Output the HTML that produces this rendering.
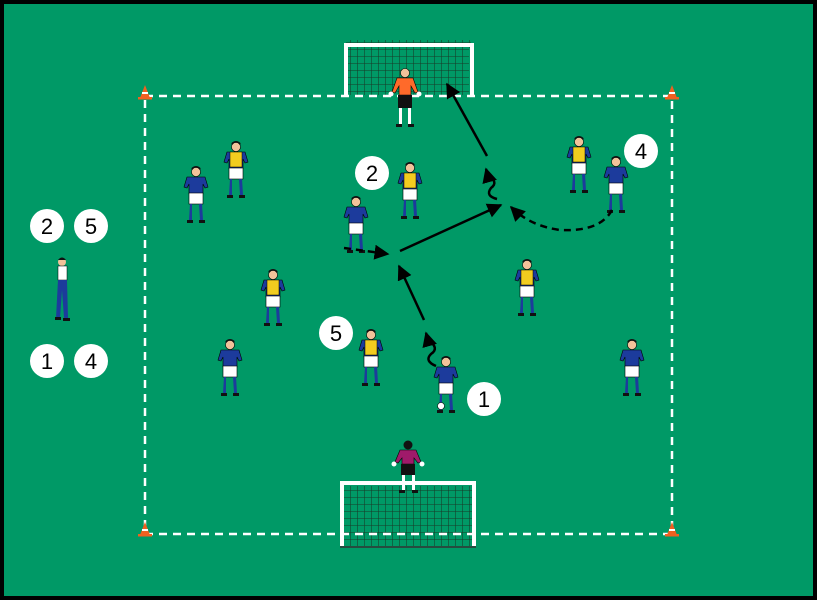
<!DOCTYPE html><html><head><style>html,body{margin:0;padding:0;background:#000}svg{display:block}</style></head><body>
<svg width="817" height="600" viewBox="0 0 817 600" xmlns="http://www.w3.org/2000/svg" font-family="Liberation Sans, sans-serif">
<defs>
<g id="pb">
<circle cx="0" cy="5" r="4.5" fill="#f2c29a" stroke="#000" stroke-width=".6"/>
<path d="M-4.5 3 Q0 -2 4.5 3 L4.5 1 Q0 -3 -4.5 1Z" fill="#111"/>
<path d="M-9 10 L9 10 L12 20 L9 21 L7 17 L7 27 L-7 27 L-7 17 L-9 21 L-12 20Z" fill="#1c3b9c" stroke="#000" stroke-width=".6"/>
<rect x="-7" y="26" width="14" height="11" fill="#fff" stroke="#000" stroke-width=".6"/>
<path d="M-6 37 L-4 37 L-4 53 L-7 53Z M3 37 L6 37 L7 53 L4 53Z" fill="#1c3b9c"/>
<path d="M-9 53 h6 v3 h-6Z M3 53 h6 v3 h-6Z" fill="#111"/>
</g>
<g id="py">
<use href="#pb"/>
<path d="M-6 10 L6 10 L6 25 L-6 25Z" fill="#f2cc1f" stroke="#000" stroke-width=".5"/>
</g>
<marker id="ah" viewBox="0 0 10 10" refX="9" refY="5" markerWidth="6" markerHeight="6" orient="auto"><path d="M0 0 L10 5 L0 10Z" fill="#000"/></marker>
<pattern id="net" width="7" height="7" patternUnits="userSpaceOnUse"><path d="M0 0 H7 M0 0 V7" stroke="#173a28" stroke-width="1.1" fill="none"/></pattern>
<g id="cone"><path d="M-5 6 L0 -7 L5 6Z" fill="#f06020"/><rect x="-7" y="5" width="14" height="2.5" fill="#f06020"/><path d="M-3 0 h6 v2 h-6z" fill="#fff"/></g>
</defs>
<rect x="0" y="0" width="817" height="600" fill="#000"/>
<rect x="4" y="4" width="809" height="592" fill="#009966"/>
<rect x="346" y="40" width="125" height="8" fill="url(#net)"/>
<rect x="348" y="47" width="121" height="48" fill="url(#net)"/>
<path d="M346 96 V45 H472 V96" fill="none" stroke="#fff" stroke-width="4"/>
<rect x="342" y="486" width="132" height="60" fill="url(#net)"/>
<path d="M342 546 V483 H474 V546" fill="none" stroke="#fff" stroke-width="4"/>
<path d="M340 547 H476" stroke="#333" stroke-width="1.5"/>
<rect x="145" y="96" width="527" height="438" fill="none" stroke="#fff" stroke-width="2.5" stroke-dasharray="8 6"/>
<use href="#cone" x="145" y="92"/><use href="#cone" x="672" y="92"/><use href="#cone" x="145" y="529"/><use href="#cone" x="672" y="529"/>
<g transform="translate(405,68)">
<circle cx="0" cy="5" r="4.5" fill="#f2c29a" stroke="#000" stroke-width=".6"/>
<path d="M-8 10 L8 10 L13 24 L10 25 L6 18 L6 27 L-6 27 L-6 18 L-10 25 L-13 24Z" fill="#ff6a2a" stroke="#000" stroke-width=".6"/>
<circle cx="-14" cy="26" r="2.5" fill="#fff"/><circle cx="14" cy="26" r="2.5" fill="#fff"/>
<rect x="-7" y="27" width="14" height="13" fill="#111"/>
<path d="M-6 40 h3 v17 h-3Z M3 40 h3 v17 h-3Z" fill="#fff"/>
<path d="M-9 56 h6 v3 h-6Z M3 56 h6 v3 h-6Z" fill="#111"/>
</g>
<g transform="translate(408,440)">
<circle cx="0" cy="5" r="4.5" fill="#111"/>
<path d="M-8 10 L8 10 L13 22 L10 23 L6 18 L6 24 L-6 24 L-6 18 L-10 23 L-13 22Z" fill="#a01a6a" stroke="#000" stroke-width=".6"/>
<circle cx="-14" cy="24" r="2.5" fill="#fff"/><circle cx="14" cy="24" r="2.5" fill="#fff"/>
<rect x="-7" y="24" width="14" height="11" fill="#111"/>
<path d="M-6 35 h3 v16 h-3Z M4 35 h3 v16 h-3Z" fill="#fff"/>
<path d="M-9 50 h6 v3 h-6Z M4 50 h6 v3 h-6Z" fill="#111"/>
</g>
<use href="#pb" x="196" y="167"/><use href="#pb" x="356" y="197"/><use href="#pb" x="230" y="340"/><use href="#pb" x="446" y="357"/><use href="#pb" x="616" y="157"/><use href="#pb" x="632" y="340"/>
<use href="#py" x="236" y="142"/><use href="#py" x="410" y="163"/><use href="#py" x="273" y="270"/><use href="#py" x="371" y="330"/><use href="#py" x="527" y="260"/><use href="#py" x="579" y="137"/>
<circle cx="441" cy="406" r="3.5" fill="#fff" stroke="#000" stroke-width=".6"/>
<g transform="translate(62,258)">
<circle cx="0" cy="4" r="4" fill="#f2c29a"/><path d="M-4 2 Q0 -3 4 2Z" fill="#111"/>
<rect x="-4" y="8" width="9" height="14" fill="#fff" stroke="#000" stroke-width=".5"/>
<path d="M-4 22 h9 l1 38 h-4 l-2 -28 l-2 28 h-4Z" fill="#1c3b9c"/>
<path d="M-7 59 h6 v3 h-6Z M1 60 h7 v3 h-7Z" fill="#111"/>
</g>
<g stroke="#000" stroke-width="2.5" fill="none">
<path d="M436 366 q-12 -5 -5 -12 q9 -6 -3 -14 l-2 -7" marker-end="url(#ah)"/>
<path d="M424 320 L399 266" marker-end="url(#ah)"/>
<path d="M344 248 L388 254" stroke-dasharray="7 5" marker-end="url(#ah)"/>
<path d="M400 251 L501 205" marker-end="url(#ah)"/>
<path d="M612 210 Q600 232 560 230 Q530 226 511 207" stroke-dasharray="7 5" marker-end="url(#ah)"/>
<path d="M497 199 q-12 -3 -6 -11 q8 -6 -3 -12 l-2 -7" marker-end="url(#ah)"/>
<path d="M487 156 L447 84" marker-end="url(#ah)"/>
</g>
<g font-size="22" text-anchor="middle" fill="#000">
<circle cx="372" cy="173" r="17" fill="#fff"/><text x="372" y="181">2</text>
<circle cx="641" cy="151" r="17" fill="#fff"/><text x="641" y="159">4</text>
<circle cx="336" cy="333" r="17" fill="#fff"/><text x="336" y="341">5</text>
<circle cx="484" cy="399" r="17" fill="#fff"/><text x="484" y="407">1</text>
<circle cx="47" cy="226" r="17" fill="#fff"/><text x="47" y="234">2</text>
<circle cx="91" cy="226" r="17" fill="#fff"/><text x="91" y="234">5</text>
<circle cx="47" cy="361" r="17" fill="#fff"/><text x="47" y="369">1</text>
<circle cx="91" cy="361" r="17" fill="#fff"/><text x="91" y="369">4</text>
</g>
</svg>
</body></html>
